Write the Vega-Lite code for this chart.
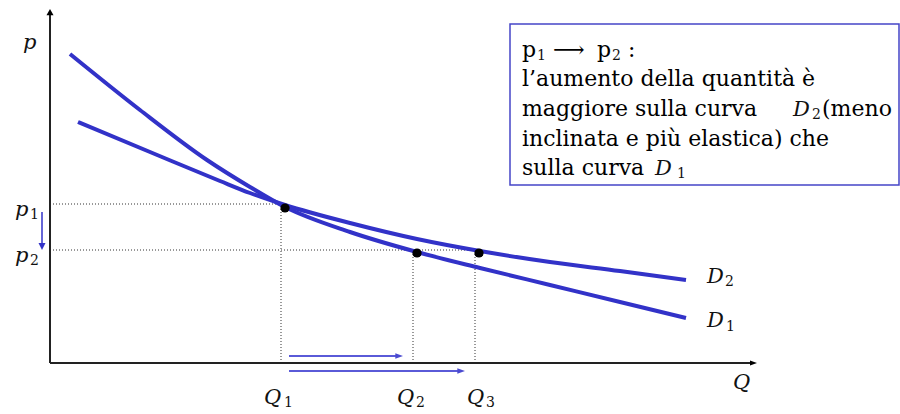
{
  "$schema": "https://vega.github.io/schema/vega-lite/v6.json",
  "width": 900,
  "height": 414,
  "autosize": {"type": "fit", "contains": "padding"},
  "padding": 0,
  "background": "white",
  "config": {"view": {"stroke": null}},
  "datasets": {
    "curves": [
      {"curve": "D1", "x": 20, "y": 309}, {"curve": "D1", "x": 90, "y": 253}, {"curve": "D1", "x": 157, "y": 203},
      {"curve": "D1", "x": 200, "y": 176}, {"curve": "D1", "x": 235, "y": 156}, {"curve": "D1", "x": 300, "y": 131},
      {"curve": "D1", "x": 367, "y": 111}, {"curve": "D1", "x": 430, "y": 95}, {"curve": "D1", "x": 500, "y": 78},
      {"curve": "D1", "x": 570, "y": 61}, {"curve": "D1", "x": 636, "y": 45},
      {"curve": "D2", "x": 28, "y": 241}, {"curve": "D2", "x": 100, "y": 211}, {"curve": "D2", "x": 170, "y": 182},
      {"curve": "D2", "x": 200, "y": 170}, {"curve": "D2", "x": 235, "y": 158}, {"curve": "D2", "x": 300, "y": 140},
      {"curve": "D2", "x": 367, "y": 124}, {"curve": "D2", "x": 430, "y": 112}, {"curve": "D2", "x": 500, "y": 101},
      {"curve": "D2", "x": 570, "y": 92}, {"curve": "D2", "x": 636, "y": 83}
    ],
    "dots": [{"x": 235, "y": 155}, {"x": 367, "y": 110}, {"x": 429, "y": 110}],
    "guides": [
      {"x": 0, "x2": 231, "y": 159, "y2": 159},
      {"x": 0, "x2": 425, "y": 113, "y2": 113},
      {"x": 231, "x2": 231, "y": 0, "y2": 159},
      {"x": 363, "x2": 363, "y": 0, "y2": 113},
      {"x": 425, "x2": 425, "y": 0, "y2": 113}
    ],
    "axes": [
      {"x": 0, "x2": 702, "y": 0, "y2": 0},
      {"x": 0, "x2": 0, "y": 0, "y2": 350}
    ],
    "axisHeads": [{"x": 707, "y": 0, "dir": "right"}, {"x": 0, "y": 354, "dir": "up"}],
    "vArrow": [{"x": -8, "x2": -8, "y": 151, "y2": 118}],
    "vHead": [{"x": -8, "y": 113}],
    "hArrows": [{"x": 239, "x2": 347, "y": 7, "y2": 7}, {"x": 239, "x2": 409, "y": -8, "y2": -8}],
    "hHeads": [{"x": 353, "y": 7}, {"x": 415, "y": -8}],
    "italic": [
      {"t": "p", "x": -27, "y": 314}, {"t": "p", "x": -35, "y": 147}, {"t": "p", "x": -35, "y": 101},
      {"t": "Q", "x": 214, "y": -41}, {"t": "Q", "x": 347, "y": -41}, {"t": "Q", "x": 417, "y": -41},
      {"t": "Q", "x": 683, "y": -26}, {"t": "D", "x": 657, "y": 80}, {"t": "D", "x": 657, "y": 36},
      {"t": "D", "x": 743, "y": 247}, {"t": "D", "x": 605, "y": 188}
    ],
    "subs": [
      {"t": "1", "x": -20, "y": 144}, {"t": "2", "x": -20, "y": 98}, {"t": "1", "x": 234, "y": -44},
      {"t": "2", "x": 366, "y": -44}, {"t": "3", "x": 436, "y": -44}, {"t": "2", "x": 675, "y": 77},
      {"t": "1", "x": 676, "y": 32}, {"t": "1", "x": 487, "y": 303}, {"t": "2", "x": 562, "y": 303},
      {"t": "2", "x": 762, "y": 244}, {"t": "1", "x": 627, "y": 185}
    ],
    "boxText": [
      {"t": "p", "x": 472, "y": 306}, {"t": "⟶", "x": 503, "y": 306}, {"t": "p", "x": 547, "y": 306},
      {"t": ":", "x": 578, "y": 306},
      {"t": "l’aumento della quantità è", "x": 472, "y": 277},
      {"t": "maggiore sulla curva", "x": 472, "y": 247},
      {"t": "(meno", "x": 772, "y": 247},
      {"t": "inclinata e più elastica) che", "x": 472, "y": 217},
      {"t": "sulla curva", "x": 472, "y": 188}
    ],
    "box": [{"x": 460, "x2": 849, "y": 339, "y2": 178}]
  },
  "encoding": {
    "x": {"field": "x", "type": "quantitative", "scale": {"domain": [-50, 850], "nice": false, "zero": false}, "axis": null},
    "y": {"field": "y", "type": "quantitative", "scale": {"domain": [-51, 363], "nice": false, "zero": false}, "axis": null}
  },
  "layer": [
    {
      "data": {"name": "box"},
      "mark": {"type": "rect", "fill": null, "stroke": "#4646c8", "strokeWidth": 1.5},
      "encoding": {"x2": {"field": "x2"}, "y2": {"field": "y2"}}
    },
    {
      "data": {"name": "guides"},
      "mark": {"type": "rule", "color": "#333333", "strokeWidth": 1, "strokeDash": [1, 2]},
      "encoding": {"x2": {"field": "x2"}, "y2": {"field": "y2"}}
    },
    {
      "data": {"name": "axes"},
      "mark": {"type": "rule", "color": "#222222", "strokeWidth": 2},
      "encoding": {"x2": {"field": "x2"}, "y2": {"field": "y2"}}
    },
    {
      "data": {"name": "axisHeads"},
      "mark": {"type": "point", "filled": true, "color": "#000000", "opacity": 1, "size": 49},
      "encoding": {
        "shape": {"field": "dir", "type": "nominal", "legend": null,
          "scale": {"domain": ["right", "up"], "range": ["M0,0L-2,-0.7L-2,0.7Z", "M0,0L-1,1.8L1,1.8Z"]}}
      }
    },
    {
      "data": {"name": "curves"},
      "mark": {"type": "line", "color": "#3232c8", "strokeWidth": 4, "interpolate": "monotone", "strokeCap": "butt"},
      "encoding": {"detail": {"field": "curve", "type": "nominal"}}
    },
    {
      "data": {"name": "dots"},
      "mark": {"type": "circle", "color": "#000000", "opacity": 1, "size": 85}
    },
    {
      "data": {"name": "vArrow"},
      "mark": {"type": "rule", "color": "#3232c8", "strokeWidth": 1.5},
      "encoding": {"x2": {"field": "x2"}, "y2": {"field": "y2"}}
    },
    {
      "data": {"name": "vHead"},
      "mark": {"type": "point", "filled": true, "color": "#3232c8", "opacity": 1, "size": 49, "shape": "M0,0L-1,-2L1,-2Z"}
    },
    {
      "data": {"name": "hArrows"},
      "mark": {"type": "rule", "color": "#5a5ad8", "strokeWidth": 2},
      "encoding": {"x2": {"field": "x2"}, "y2": {"field": "y2"}}
    },
    {
      "data": {"name": "hHeads"},
      "mark": {"type": "point", "filled": true, "color": "#4a4ad0", "opacity": 1, "size": 49, "shape": "M0,0L-2.2,-0.8L-2.2,0.8Z"}
    },
    {
      "data": {"name": "italic"},
      "mark": {"type": "text", "font": "DejaVu Serif", "fontStyle": "italic", "fontSize": 21, "align": "left", "baseline": "alphabetic", "color": "#111111"},
      "encoding": {"text": {"field": "t"}}
    },
    {
      "data": {"name": "subs"},
      "mark": {"type": "text", "font": "DejaVu Serif", "fontSize": 14, "align": "left", "baseline": "alphabetic", "color": "#111111"},
      "encoding": {"text": {"field": "t"}}
    },
    {
      "data": {"name": "boxText"},
      "mark": {"type": "text", "font": "DejaVu Serif", "fontSize": 22, "align": "left", "baseline": "alphabetic", "color": "#000000"},
      "encoding": {"text": {"field": "t"}}
    }
  ]
}
